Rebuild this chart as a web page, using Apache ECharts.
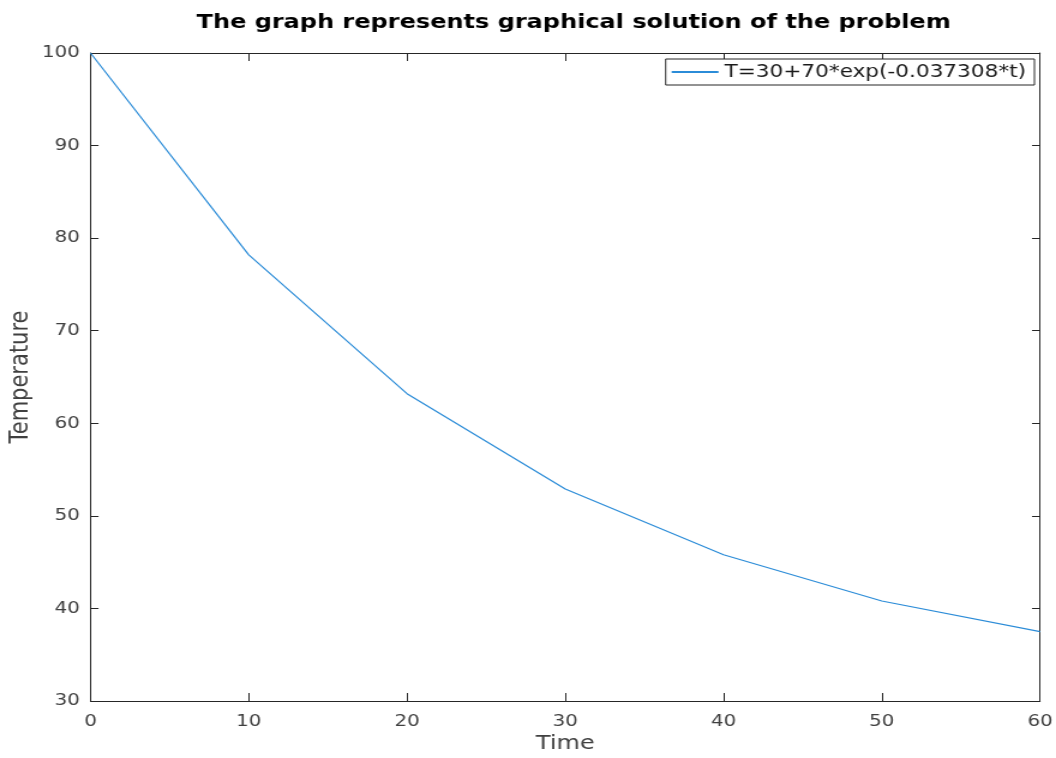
<!DOCTYPE html>
<html><head><meta charset="utf-8">
<script src="https://cdn.jsdelivr.net/npm/echarts@6/dist/echarts.min.js"></script>
<style>
html,body{margin:0;padding:0;background:#fff;overflow:hidden}
#wrap{width:1056px;height:758px;overflow:hidden;background:#fff}
#c{width:880px;height:758px;transform:scaleX(1.2);transform-origin:0 0}
</style>
</head><body><div id="wrap"><div id="c"></div></div>
<script>
const times = [0, 10, 20, 30, 40, 50, 60];
const temperatures = [100, 78.2, 63.2, 52.9, 45.8, 40.8, 37.5];
const seriesName = 'T=30+70*exp(-0.037308*t)';
const xTicks = [0, 10, 20, 30, 40, 50, 60];
const yTicks = [30, 40, 50, 60, 70, 80, 90, 100];

const font = 'DejaVu Sans, Verdana, sans-serif';
const axisCol = '#262626';
const labelCol = '#404040';
const chart = echarts.init(document.getElementById('c'), null, {renderer: 'canvas'});
function axisBase(tickLen) {
  return {
    axisLine: {show: true, onZero: false, lineStyle: {color: axisCol, width: 1}},
    axisTick: {show: true, inside: true, length: tickLen, lineStyle: {color: axisCol}},
    splitLine: {show: false}
  };
}
chart.setOption({
  backgroundColor: '#fff',
  animation: false,
  title: {
    text: 'The graph represents graphical solution of the problem',
    left: 473, top: 8, textAlign: 'center',
    textStyle: {fontFamily: font, fontSize: 20, fontWeight: 'bold', color: '#000'}
  },
  legend: {
    data: [seriesName],
    right: 18, top: 59,
    itemWidth: 39, itemHeight: 2, itemGap: 2,
    icon: 'rect',
    backgroundColor: '#fff',
    borderColor: axisCol, borderWidth: 1, borderRadius: 0,
    padding: [3, 7, 3, 5],
    textStyle: {fontFamily: font, fontSize: 18, color: '#1a1a1a', lineHeight: 20}
  },
  grid: {left: 75.4, right: 13.3, top: 53, bottom: 57, containLabel: false, outerBoundsMode: 'none'},
  xAxis: [
    Object.assign(axisBase(8), {
      type: 'value', min: 0, max: 60, interval: 10, position: 'bottom',
      name: 'Time', nameLocation: 'middle', nameGap: 33, nameMoveOverlap: false,
      nameTextStyle: {fontFamily: font, fontSize: 20, color: labelCol},
      axisLabel: {fontFamily: font, fontSize: 16.5, color: labelCol, margin: 12,
        formatter: v => xTicks.includes(v) ? String(v) : ''}
    }),
    Object.assign(axisBase(8), {
      type: 'value', min: 0, max: 60, interval: 10, position: 'top',
      axisLabel: {show: false}
    })
  ],
  yAxis: [
    Object.assign(axisBase(6.7), {
      type: 'value', min: 30, max: 100, interval: 10, position: 'left',
      name: 'Temperature', nameLocation: 'middle', nameGap: 47, nameRotate: 90, nameMoveOverlap: false,
      nameTextStyle: {fontFamily: font, fontSize: 21, color: labelCol},
      axisLabel: {fontFamily: font, fontSize: 16.5, color: labelCol, margin: 9,
        formatter: v => yTicks.includes(v) ? String(v) : ''}
    }),
    Object.assign(axisBase(6.7), {
      type: 'value', min: 30, max: 100, interval: 10, position: 'right',
      axisLabel: {show: false}
    })
  ],
  series: [{
    name: seriesName,
    type: 'line',
    data: times.map((t, i) => [t, temperatures[i]]),
    showSymbol: false,
    symbol: 'none',
    lineStyle: {color: '#2b8cd8', width: 1.2},
    itemStyle: {color: '#2b8cd8'}
  }]
});
</script></body></html>
